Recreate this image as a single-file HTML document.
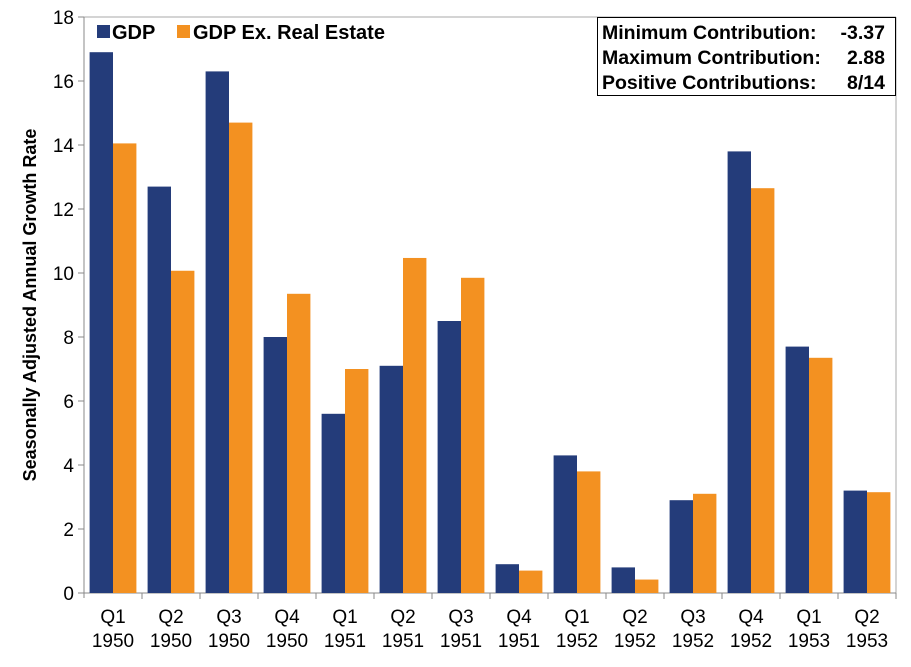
<!DOCTYPE html>
<html><head><meta charset="utf-8"><style>body{margin:0;background:#fff}</style></head><body>
<svg width="911" height="662" xmlns="http://www.w3.org/2000/svg" font-family="Liberation Sans, Arial, sans-serif">
<rect width="911" height="662" fill="#fff"/>
<line x1="84" y1="17" x2="896" y2="17" stroke="#aaa"/>
<line x1="896" y1="17" x2="896" y2="593" stroke="#aaa"/>
<line x1="84" y1="17" x2="84" y2="598" stroke="#888"/>
<line x1="78" y1="593" x2="896" y2="593" stroke="#888"/>
<g id="bars"></g>
<g font-size="19" fill="#000" text-anchor="end" id="yl"></g>
<g font-size="19" fill="#000" text-anchor="middle" id="xl"></g>
<text transform="translate(36,305) rotate(-90)" text-anchor="middle" font-size="18" font-weight="bold">Seasonally Adjusted Annual Growth Rate</text>
<rect x="97" y="25" width="13" height="13" fill="#243C7A"/>
<text x="112" y="39" font-size="20" font-weight="bold">GDP</text>
<rect x="177" y="25" width="13" height="13" fill="#F39121"/>
<text x="193" y="39" font-size="20" font-weight="bold">GDP Ex. Real Estate</text>
<rect x="597.5" y="17.5" width="298" height="78" fill="#fff" stroke="#000"/>
<g font-size="19.5" font-weight="bold">
<text x="602" y="39">Minimum Contribution:</text><text x="885" y="39" text-anchor="end">-3.37</text>
<text x="602" y="64">Maximum Contribution:</text><text x="885" y="64" text-anchor="end">2.88</text>
<text x="602" y="89">Positive Contributions:</text><text x="885" y="89" text-anchor="end">8/14</text>
</g>
</svg>
<script>
var g=[16.9,12.7,16.3,8.0,5.6,7.1,8.5,0.9,4.3,0.8,2.9,13.8,7.7,3.2];
var o=[14.05,10.07,14.7,9.35,7.0,10.47,9.85,0.7,3.8,0.42,3.1,12.65,7.35,3.15];
var q=["Q1","Q2","Q3","Q4","Q1","Q2","Q3","Q4","Q1","Q2","Q3","Q4","Q1","Q2"];
var y=[1950,1950,1950,1950,1951,1951,1951,1951,1952,1952,1952,1952,1953,1953];
var b="",xl="",yl="";
for(var i=0;i<14;i++){var x0=84+58*i;
b+='<rect x="'+(x0+5.6)+'" y="'+(593-g[i]*32)+'" width="23.4" height="'+(g[i]*32)+'" fill="#243C7A"/>';
b+='<rect x="'+(x0+29)+'" y="'+(593-o[i]*32)+'" width="23.4" height="'+(o[i]*32)+'" fill="#F39121"/>';
b+='<line x1="'+(x0+58)+'" y1="593" x2="'+(x0+58)+'" y2="599" stroke="#888"/>';
xl+='<text x="'+(x0+29)+'" y="623">'+q[i]+'</text><text x="'+(x0+29)+'" y="647">'+y[i]+'</text>';}
for(var v=0;v<=18;v+=2){var yy=593-v*32;yl+='<text x="74" y="'+(yy+7)+'">'+v+'</text>';b+='<line x1="78" y1="'+yy+'" x2="84" y2="'+yy+'" stroke="#888"/>';}
document.getElementById("bars").innerHTML=b;document.getElementById("xl").innerHTML=xl;document.getElementById("yl").innerHTML=yl;
</script>
</body></html>
